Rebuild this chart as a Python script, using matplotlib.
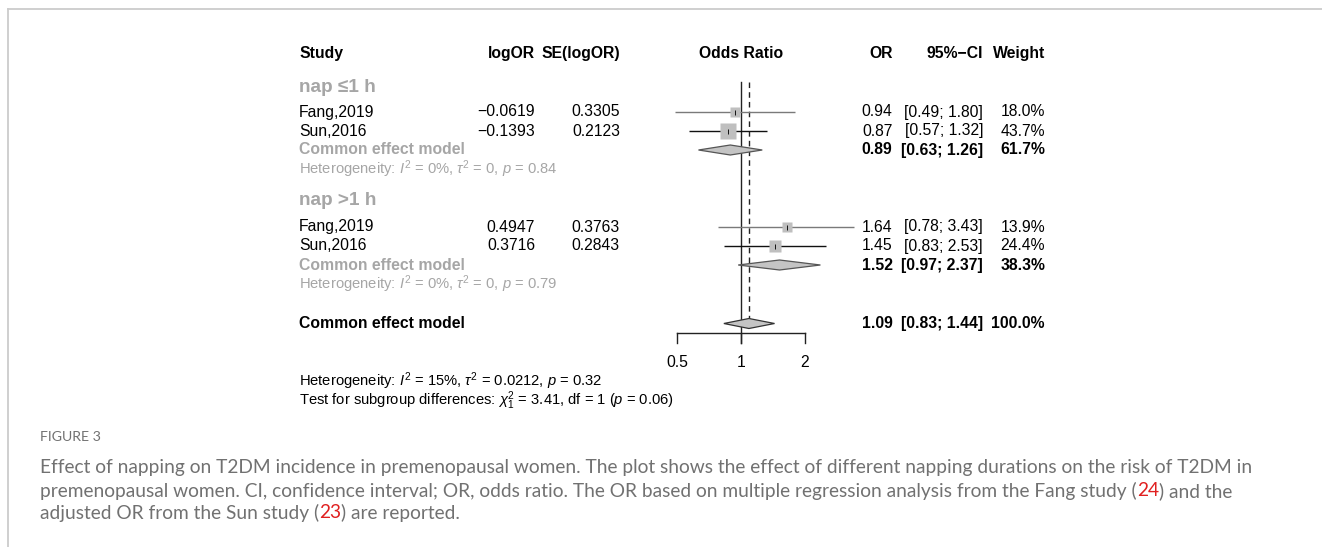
import matplotlib
matplotlib.use('Agg')
import matplotlib.pyplot as plt
from matplotlib.patches import Polygon
from matplotlib.lines import Line2D
import numpy as np

# ---------------- data ----------------
group_labels = ["nap \u22641 h", "nap >1 h"]
studies = ["Fang,2019", "Sun,2016", "Fang,2019", "Sun,2016"]
study_group = [0, 0, 1, 1]
log_or = [-0.0619, -0.1393, 0.4947, 0.3716]
se_log_or = [0.3305, 0.2123, 0.3763, 0.2843]
odds_ratio = [0.94, 0.87, 1.64, 1.45]
ci_low = [0.49, 0.57, 0.78, 0.83]
ci_high = [1.80, 1.32, 3.43, 2.53]
weight = [18.0, 43.7, 13.9, 24.4]
group_or = [0.89, 1.52]
group_low = [0.63, 0.97]
group_high = [1.26, 2.37]
group_weight = [61.7, 38.3]
group_i2 = ["0%", "0%"]
group_tau2 = ["0", "0"]
group_p = ["0.84", "0.79"]
overall_or = 1.09
overall_low = 0.83
overall_high = 1.44
overall_weight = 100.0
overall_i2 = "15%"
overall_tau2 = "0.0212"
overall_p = "0.32"
subgroup_chi2 = "3.41"
subgroup_df = "1"
subgroup_p = "0.06"
xtick_values = [0.5, 1, 2]
xtick_labels = ["0.5", "1", "2"]
headers = ["Study", "logOR", "SE(logOR)", "Odds Ratio", "OR", "95%\u2212CI", "Weight"]

caption_title = "FIGURE 3"
caption_lines = [
    [("Effect of napping on T2DM incidence in premenopausal women. The plot shows the effect of different napping durations on the risk of T2DM in", None)],
    [("premenopausal women. CI, confidence interval; OR, odds ratio. The OR based on multiple regression analysis from the Fang study (", None),
     ("24", "red"), (") and the", None)],
    [("adjusted OR from the Sun study (", None), ("23", "red"), (") are reported.", None)],
]

# ---------------- style / layout ----------------
W, H = 1322, 547
plt.rcParams['font.family'] = ['Liberation Sans', 'DejaVu Sans']
plt.rcParams['mathtext.fontset'] = 'custom'
plt.rcParams['mathtext.rm'] = 'Liberation Sans'
plt.rcParams['mathtext.it'] = 'Liberation Sans:italic'
plt.rcParams['mathtext.bf'] = 'Liberation Sans:bold'

GRAY_TXT = '#a6a6a6'
SQ = '#bfbfbf'
DIA = '#c4c4c4'
FS = 11.3
FS_SMALL = 10.6
FS_GROUP = 13.7

fig = plt.figure(figsize=(W / 100, H / 100), dpi=100)
fig.patch.set_facecolor('white')


def T(x, y, s, ha='left', **kw):
    kw.setdefault('fontsize', FS)
    return fig.text(x / W, 1 - y / H, s, ha=ha, va='center', **kw)


# border
fig.add_artist(Line2D([8 / W, 1], [1 - 9 / H, 1 - 9 / H], color='#cccccc', lw=1.3))
fig.add_artist(Line2D([8 / W, 8 / W], [0, 1 - 9 / H], color='#cccccc', lw=1.3))

# column positions (pixels)
x_study = 299
x_logor = 535
x_se = 620
x_or = 892.5
x_ci = 983
x_w = 1045

y_head = 53.5
y_group = [87.3, 200.5]
y_study = [112, 131, 227, 246]
y_gmodel = [150, 265]
y_ghet = [169.3, 284.3]
y_overall = 323.5
y_axis = 333
y_ticklab = 362.5
y_het = 381.5
y_test = 401

# headers
T(x_study, y_head, headers[0], fontweight='bold')
T(x_logor, y_head, headers[1], ha='right', fontweight='bold')
T(x_se, y_head, headers[2], ha='right', fontweight='bold')
T(741, y_head, headers[3], ha='center', fontweight='bold')
T(x_or, y_head, headers[4], ha='right', fontweight='bold')
T(x_ci, y_head, headers[5], ha='right', fontweight='bold')
T(x_w, y_head, headers[6], ha='right', fontweight='bold')


def fmt(v, nd):
    return f"{v:.{nd}f}".replace('-', '\u2212')


for g in range(2):
    T(x_study, y_group[g], group_labels[g], fontsize=FS_GROUP, fontweight='bold', color=GRAY_TXT)
    T(x_study, y_gmodel[g], "Common effect model", fontweight='bold', color=GRAY_TXT)
    T(x_study, y_ghet[g], "Heterogeneity: $I^2$ = " + group_i2[g] + r", $\tau^2$ = "
      + group_tau2[g] + ", $p$ = " + group_p[g], fontsize=FS_SMALL, color=GRAY_TXT)
    T(x_or, y_gmodel[g], fmt(group_or[g], 2), ha='right', fontweight='bold')
    T(x_ci, y_gmodel[g], f"[{group_low[g]:.2f}; {group_high[g]:.2f}]", ha='right', fontweight='bold')
    T(x_w, y_gmodel[g], f"{group_weight[g]:.1f}%", ha='right', fontweight='bold')

for i in range(len(studies)):
    y = y_study[i]
    T(x_study, y, studies[i])
    T(x_logor, y, fmt(log_or[i], 4), ha='right')
    T(x_se, y, fmt(se_log_or[i], 4), ha='right')
    T(x_or, y, fmt(odds_ratio[i], 2), ha='right')
    T(x_ci, y, f"[{ci_low[i]:.2f}; {ci_high[i]:.2f}]", ha='right')
    T(x_w, y, f"{weight[i]:.1f}%", ha='right')

T(x_study, y_overall, "Common effect model", fontweight='bold')
T(x_or, y_overall, fmt(overall_or, 2), ha='right', fontweight='bold')
T(x_ci, y_overall, f"[{overall_low:.2f}; {overall_high:.2f}]", ha='right', fontweight='bold')
T(x_w, y_overall, f"{overall_weight:.1f}%", ha='right', fontweight='bold')

T(x_study, y_het, "Heterogeneity: $I^2$ = " + overall_i2 + r", $\tau^2$ = " + overall_tau2
  + ", $p$ = " + overall_p, fontsize=FS_SMALL)
T(x_study, y_test, r"Test for subgroup differences: $\chi^2_1$ = " + subgroup_chi2 + ", df = "
  + subgroup_df + " ($p$ = " + subgroup_p + ")", fontsize=FS_SMALL)

# ---------------- forest axes ----------------
px_per_doubling = 63.8
x_one = 741
ax_l, ax_r = 630, 890
ax = fig.add_axes([ax_l / W, 0, (ax_r - ax_l) / W, 1])
ax.set_xscale('log')
ax.set_xlim(2 ** ((ax_l - x_one) / px_per_doubling), 2 ** ((ax_r - x_one) / px_per_doubling))
ax.set_ylim(H, 0)
ax.axis('off')
ax.patch.set_alpha(0)

LINE = '#222222'
# reference lines
ax.plot([1, 1], [82, y_axis + 10], color=LINE, lw=1.0, zorder=1)
ax.plot([overall_or, overall_or], [82, y_overall], color=LINE, lw=1.0, ls=(0, (4, 3)), zorder=1)

for i in range(len(studies)):
    y = y_study[i]
    lc = '#7a7a7a' if studies[i].startswith('Fang') else '#111111'
    ax.plot([ci_low[i], ci_high[i]], [y, y], color=lc, lw=1.0, zorder=2, solid_capstyle='butt')
    side_px = 16 * np.sqrt(weight[i] / 43.7)
    ax.plot([odds_ratio[i]], [y], marker='s', ms=side_px * 0.72, color=SQ, mec='none', zorder=3)
    ax.plot([odds_ratio[i], odds_ratio[i]], [y - 2.5, y + 2.5], color='#111111', lw=0.7,
            zorder=4, solid_capstyle='butt')


def diamond(est, lo, hi, y, ec):
    p = Polygon([(lo, y), (est, y - 5), (hi, y), (est, y + 5)], closed=True,
                facecolor=DIA, edgecolor=ec, lw=0.9, zorder=5)
    ax.add_patch(p)


for g in range(2):
    diamond(group_or[g], group_low[g], group_high[g], y_gmodel[g], '#555555')
diamond(overall_or, overall_low, overall_high, y_overall, '#333333')

# x axis
ax.plot([xtick_values[0], xtick_values[-1]], [y_axis, y_axis], color=LINE, lw=1.0)
for v, lab in zip(xtick_values, xtick_labels):
    ax.plot([v, v], [y_axis, y_axis + 10], color=LINE, lw=1.0)
    ax.text(v, y_ticklab, lab, ha='center', va='center', fontsize=FS)

# ---------------- caption ----------------
CAP = '#717171'
cap_font = ['Lato', 'DejaVu Sans']
T(40, 437, caption_title, fontsize=10.2, color=CAP, family=cap_font)

renderer = fig.canvas.get_renderer()
# fit caption size so that the first line spans ~1217 px
probe = fig.text(0, 0, caption_lines[0][0][0], fontsize=10, family=cap_font)
w10 = probe.get_window_extent(renderer=renderer).width
probe.remove()
cap_fs = 10 * 1217 / w10

for li, parts in enumerate(caption_lines):
    y = [468, 491, 513][li]
    cur = 40
    for s, c in parts:
        t = T(cur, y, s, fontsize=cap_fs, color=('#e02020' if c == 'red' else CAP), family=cap_font)
        cur = t.get_window_extent(renderer=renderer).x1

fig.savefig('out.png', dpi=100, facecolor='white')
